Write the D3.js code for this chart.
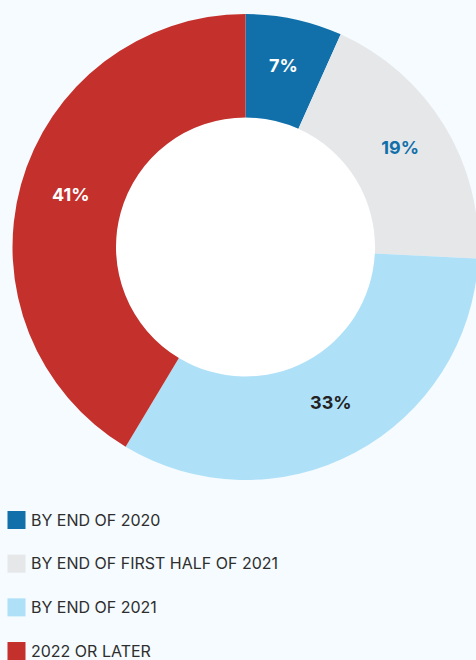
<!DOCTYPE html>
<html><head><meta charset="utf-8">
<script src="https://cdn.jsdelivr.net/npm/d3@7"></script>
<style>
html,body{margin:0;padding:0;background:#f5fbfe;}
svg{display:block;}
</style></head>
<body>
<script>
const categories = ["BY END OF 2020", "BY END OF FIRST HALF OF 2021", "BY END OF 2021", "2022 OR LATER"];
const values = [6.7, 19.1, 32.8, 41.4];
const colors = ["#1170aa", "#e6e7e9", "#aee0f8", "#c4302b"];
const labelColors = ["#ffffff", "#1170aa", "#222222", "#ffffff"];

const W = 476, H = 660;
const cx = 245.5, cy = 247, rOuter = 233, rInner = 129.5;

const svg = d3.select("body").append("svg").attr("width", W).attr("height", H);
svg.append("rect").attr("width", W).attr("height", H).attr("fill", "#f5fbfe");

const data = categories.map((c, i) => ({cat: c, value: values[i], color: colors[i], lc: labelColors[i]}));
const pie = d3.pie().value(d => d.value).sort(null);
const arc = d3.arc().innerRadius(rInner).outerRadius(rOuter);
const arcs = pie(data);

const g = svg.append("g").attr("transform", `translate(${cx},${cy})`);
g.append("circle").attr("r", rInner).attr("fill", "#ffffff");
g.selectAll("path.slice").data(arcs).join("path")
  .attr("class", "slice")
  .attr("d", arc)
  .attr("fill", d => d.data.color);

g.selectAll("text.lbl").data(arcs).join("text")
  .attr("class", "lbl")
  .attr("transform", d => `translate(${arc.centroid(d)})`)
  .attr("text-anchor", "middle")
  .attr("dy", "0.11em")
  .attr("font-family", "Inter, Roboto, sans-serif")
  .attr("font-weight", 700)
  .attr("font-size", 18)
  .attr("fill", d => d.data.lc)
  .text(d => Math.round(d.data.value) + "%");

const legend = svg.append("g").attr("transform", "translate(7.5,511)");
const y = d3.scaleBand().domain(categories).range([0, 174.7]).paddingInner(0);
const items = legend.selectAll("g").data(data).join("g")
  .attr("transform", d => `translate(0,${y(d.cat)})`);
items.append("rect").attr("width", 18).attr("height", 18).attr("fill", d => d.color);
items.append("text")
  .attr("x", 23.5).attr("y", 9).attr("dy", "0.36em")
  .attr("font-family", "Inter, Roboto, sans-serif")
  .attr("font-size", 16)
  .attr("fill", "#2e2e2e")
  .text(d => d.cat);
</script>
</body></html>
